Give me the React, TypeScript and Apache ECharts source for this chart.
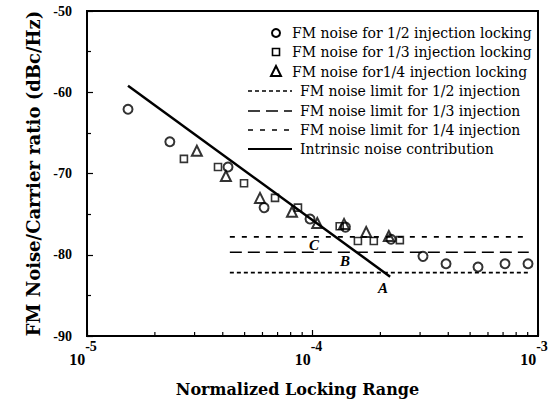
import React, { useEffect, useRef } from "react";
import * as echarts from "echarts";

// FM noise for 1/2 injection locking (circles)
const halfX = [1.52e-5, 2.33e-5, 4.22e-5, 6.1e-5, 9.75e-5, 1.4e-4, 2.23e-4, 3.09e-4, 3.91e-4, 5.42e-4, 7.14e-4, 9.03e-4];
const halfY = [-62.1, -66.1, -69.2, -74.2, -75.6, -76.6, -78.1, -80.2, -81.1, -81.5, -81.1, -81.1];
// FM noise for 1/3 injection locking (squares)
const thirdX = [2.69e-5, 3.81e-5, 4.97e-5, 6.82e-5, 8.62e-5, 1.32e-4, 1.59e-4, 1.87e-4, 2.44e-4];
const thirdY = [-68.2, -69.2, -71.2, -73.0, -74.2, -76.5, -78.3, -78.3, -78.2];
// FM noise for 1/4 injection locking (triangles)
const quarterX = [3.07e-5, 4.13e-5, 5.85e-5, 8.11e-5, 1.05e-4, 1.38e-4, 1.73e-4, 2.18e-4];
const quarterY = [-67.2, -70.3, -73.0, -74.7, -76.1, -76.2, -77.2, -77.7];
// Intrinsic noise contribution (solid line)
const intrinsicX = [1.52e-5, 2.21e-4];
const intrinsicY = [-59.2, -82.7];
// FM noise limits
const limitX = [4.3e-5, 9.1e-4];
const limitHalf = -82.2;
const limitThird = -79.7;
const limitQuarter = -77.8;
// axis
const xMin = 1e-5;
const xMax = 1e-3;
const yMin = -90;
const yMax = -50;
const yInterval = 10;
const xMinorTicks = [2e-5, 3e-5, 4e-5, 5e-5, 6e-5, 7e-5, 8e-5, 9e-5, 2e-4, 3e-4, 4e-4, 5e-4, 6e-4, 7e-4, 8e-4, 9e-4];

const legendMarkerTexts = [
  "FM noise for 1/2 injection locking",
  "FM noise for 1/3 injection locking",
  "FM noise for1/4 injection locking",
];
const legendLineTexts = [
  "FM noise limit for 1/2 injection",
  "FM noise limit for 1/3 injection",
  "FM noise limit for 1/4 injection",
  "Intrinsic noise contribution",
];

const zip = (xs: number[], ys: number[]) => xs.map((x, i) => [x, ys[i]]);

const SERIF = "'Liberation Serif', 'Times New Roman', serif";
const WIDE = "'DejaVu Serif', serif";

export default function App() {
  const ref = useRef<HTMLDivElement>(null);
  useEffect(() => {
    if (!ref.current) return;
    const chart = echarts.init(ref.current, null, { renderer: "svg" });
    const black = "#000";
    const legendRowsY = [33, 52, 72, 91, 111, 130, 149];
    const graphic: any[] = [];
    // marker legend
    graphic.push({ type: "circle", shape: { cx: 276, cy: legendRowsY[0], r: 4 }, style: { fill: "none", stroke: black, lineWidth: 2 } });
    graphic.push({ type: "rect", shape: { x: 272.5, y: legendRowsY[1] - 3.5, width: 7, height: 7 }, style: { fill: "none", stroke: black, lineWidth: 1.6 } });
    graphic.push({
      type: "polygon",
      shape: { points: [[276, legendRowsY[2] - 6], [271, legendRowsY[2] + 4], [281, legendRowsY[2] + 4]] },
      style: { fill: "none", stroke: black, lineWidth: 2 },
    });
    legendMarkerTexts.forEach((t, i) => {
      graphic.push({ type: "text", x: 292, y: legendRowsY[i], style: { text: t, fill: black, font: `14px ${WIDE}`, textVerticalAlign: "middle" } });
    });
    const dashes: any[] = [[4, 3], [12, 6], [5, 7], null];
    legendLineTexts.forEach((t, i) => {
      const y = legendRowsY[3 + i];
      graphic.push({
        type: "line",
        shape: { x1: 248, y1: y, x2: 292, y2: y },
        style: { stroke: black, lineWidth: i === 3 ? 2.2 : 1.6, lineDash: dashes[i] || undefined },
      });
      graphic.push({ type: "text", x: 300, y, style: { text: t, fill: black, font: `14px ${WIDE}`, textVerticalAlign: "middle" } });
    });
    // A, B, C annotations
    [["A", 383, 288], ["B", 345, 261], ["C", 314, 245]].forEach(([t, x, y]) => {
      graphic.push({
        type: "text",
        x: x as number,
        y: y as number,
        style: { text: t as string, fill: black, font: `italic bold 15px ${SERIF}`, textAlign: "center", textVerticalAlign: "middle" },
      });
    });

    const option: any = {
      animation: false,
      backgroundColor: "#fff",
      grid: {
        left: 87, right: 12, top: 11, bottom: 64,
        outerBoundsMode: "none",
        show: true, borderColor: black, borderWidth: 2, backgroundColor: "transparent",
      },
      xAxis: {
        type: "log",
        logBase: 10,
        min: xMin,
        max: xMax,
        name: "Normalized Locking Range",
        nameLocation: "middle",
        nameGap: 45,
        nameTextStyle: { fontFamily: WIDE, fontWeight: "bold", fontSize: 16, color: black, padding: [0, 30, 0, 0] },
        axisLine: { show: true, lineStyle: { color: black, width: 2 } },
        axisTick: { show: true, inside: true, length: 6, lineStyle: { color: black, width: 1.2 } },
        splitLine: { show: false },
        axisLabel: {
          margin: 3,
          padding: [0, 8, 0, 0],
          formatter: (v: number) => `{b|10}{s|${Math.round(Math.log10(v))}}`,
          rich: {
            b: { fontFamily: SERIF, fontWeight: "bold", fontSize: 16, color: black, lineHeight: 28, verticalAlign: "bottom" },
            s: { fontFamily: SERIF, fontWeight: "bold", fontSize: 14, color: black, lineHeight: 12, verticalAlign: "top" },
          },
        },
      },
      yAxis: {
        type: "value",
        min: yMin,
        max: yMax,
        interval: yInterval,
        name: "FM Noise/Carrier ratio (dBc/Hz)",
        nameLocation: "middle",
        nameGap: 45,
        nameRotate: 90,
        nameTextStyle: { fontFamily: WIDE, fontWeight: "bold", fontSize: 18, color: black },
        axisLine: { show: true, lineStyle: { color: black, width: 2 } },
        axisTick: { show: true, inside: true, length: 6, lineStyle: { color: black, width: 1.2 } },
        minorTick: { show: true, splitNumber: 2, length: 4, lineStyle: { color: black, width: 1.2 } },
        splitLine: { show: false },
        axisLabel: { margin: 15, fontFamily: SERIF, fontWeight: "bold", fontSize: 14, color: black },
      },
      graphic,
      series: [
        {
          type: "custom",
          silent: true,
          data: xMinorTicks.map((v) => [v, yMin]),
          renderItem: (params: any, api: any) => {
            const p = api.coord([api.value(0), api.value(1)]);
            return { type: "line", shape: { x1: p[0], y1: p[1], x2: p[0], y2: p[1] - 4 }, style: { stroke: black, lineWidth: 1.2 } };
          },
        },
        {
          name: "FM noise limit for 1/2 injection",
          type: "line",
          data: limitX.map((x) => [x, limitHalf]),
          symbol: "none",
          lineStyle: { color: black, width: 1.6, type: [4, 3] },
        },
        {
          name: "FM noise limit for 1/3 injection",
          type: "line",
          data: limitX.map((x) => [x, limitThird]),
          symbol: "none",
          lineStyle: { color: black, width: 1.6, type: [12, 6] },
        },
        {
          name: "FM noise limit for 1/4 injection",
          type: "line",
          data: limitX.map((x) => [x, limitQuarter]),
          symbol: "none",
          lineStyle: { color: black, width: 1.6, type: [5, 7] },
        },
        {
          name: "Intrinsic noise contribution",
          type: "line",
          data: zip(intrinsicX, intrinsicY),
          symbol: "none",
          lineStyle: { color: black, width: 2.5 },
        },
        {
          name: "FM noise for 1/2 injection locking",
          type: "scatter",
          data: zip(halfX, halfY),
          symbol: "circle",
          symbolSize: 9,
          itemStyle: { color: "rgba(255,255,255,0)", borderColor: black, borderWidth: 2 },
        },
        {
          name: "FM noise for 1/3 injection locking",
          type: "scatter",
          data: zip(thirdX, thirdY),
          symbol: "rect",
          symbolSize: 7,
          itemStyle: { color: "rgba(255,255,255,0)", borderColor: black, borderWidth: 1.6 },
        },
        {
          name: "FM noise for 1/4 injection locking",
          type: "scatter",
          data: zip(quarterX, quarterY),
          symbol: "triangle",
          symbolSize: 10,
          itemStyle: { color: "rgba(255,255,255,0)", borderColor: black, borderWidth: 2 },
        },
      ],
    };
    chart.setOption(option);
    return () => chart.dispose();
  }, []);
  return <div ref={ref} style={{ position: "fixed", left: 0, top: 0, width: 550, height: 400, background: "#fff" }} />;
}
